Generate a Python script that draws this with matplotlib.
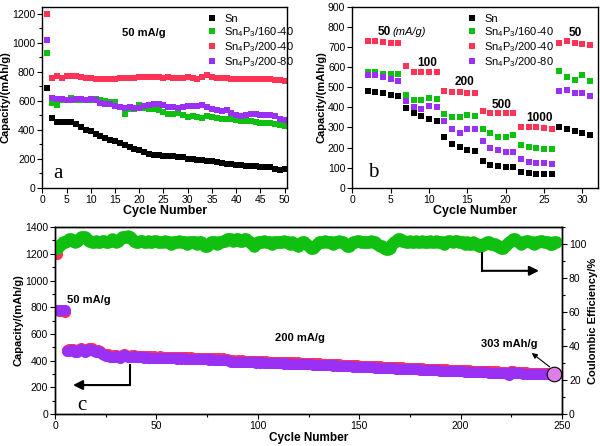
import matplotlib
matplotlib.use('Agg')
import matplotlib.pyplot as plt
from matplotlib.ticker import MultipleLocator

plt.rcParams['font.family'] = ['Liberation Sans', 'DejaVu Sans']
plt.rcParams['mathtext.default'] = 'regular'
plt.rcParams['axes.linewidth'] = 1.0

BLACK = '#000000'
GREEN = '#10c010'
RED = '#ff3355'
PURPLE = '#9b30f5'

labels = ['Sn', 'Sn$_4$P$_3$/160-40', 'Sn$_4$P$_3$/200-40', 'Sn$_4$P$_3$/200-80']

# ---- panel a : cycling at 50 mA/g
cyc_a = list(range(1, 51))
sn_a = [688, 482, 454, 454, 454, 454, 443, 420, 402, 390,
        374, 356, 344, 333, 324, 310, 298, 282, 271, 260,
        248, 236, 229, 225, 220, 218, 218, 213, 209, 202,
        197, 195, 190, 186, 186, 179, 172, 167, 163, 158,
        154, 151, 151, 149, 145, 145, 140, 128, 126, 128]
g160_a = [932, 587, 574, 604, 608, 622, 608, 608, 608, 608,
          615, 608, 599, 592, 592, 558, 512, 546, 546, 569,
          553, 546, 546, 535, 523, 512, 512, 519, 500, 489,
          493, 489, 484, 496, 489, 484, 473, 477, 477, 466,
          461, 459, 461, 454, 450, 447, 447, 438, 434, 427]
g200_40_a = [1200, 760, 769, 757, 769, 773, 773, 764, 755, 755,
             753, 748, 750, 753, 750, 755, 755, 755, 760, 764,
             766, 766, 764, 762, 760, 762, 760, 755, 760, 766,
             760, 753, 764, 778, 766, 760, 757, 755, 753, 750,
             750, 750, 750, 750, 750, 748, 748, 746, 746, 737]
g200_80_a = [1017, 622, 615, 610, 608, 608, 610, 610, 608, 610,
             604, 587, 580, 576, 564, 558, 553, 558, 553, 553,
             562, 569, 576, 576, 569, 558, 558, 553, 558, 562,
             562, 562, 569, 558, 546, 539, 528, 535, 519, 500,
             493, 500, 512, 509, 505, 500, 500, 493, 477, 466]

# ---- panel b : rate capability
cyc_b = list(range(2, 32))
sn_b = [480, 478, 473, 463, 455, 395, 370, 357, 340, 330,
        250, 220, 203, 188, 183, 133, 115, 107, 103, 103,
        78, 72, 70, 70, 70, 302, 293, 280, 272, 260]
g160_b = [575, 575, 565, 563, 565, 460, 437, 437, 448, 443,
          368, 353, 352, 360, 357, 292, 270, 250, 253, 260,
          213, 203, 200, 193, 193, 580, 553, 537, 558, 532]
g200_40_b = [727, 728, 723, 722, 720, 605, 577, 577, 575, 575,
             483, 478, 475, 472, 473, 382, 373, 372, 372, 372,
             300, 300, 300, 297, 290, 720, 728, 720, 715, 712]
g200_80_b = [560, 560, 553, 540, 533, 433, 403, 390, 405, 403,
             330, 290, 273, 293, 290, 233, 200, 188, 180, 177,
             142, 128, 125, 122, 120, 483, 487, 470, 470, 457]
rate_labels = ['100', '200', '500', '1000', '50']
rate_x = [9.8, 14.7, 19.5, 24.4, 29.1]
rate_y = [618, 527, 411, 345, 768]

# ---- panel c : long cycling at 200 mA/g
cyc_c = list(range(1, 248))
red_c = [1200, 772, 770, 770, 768, 480, 484, 490, 486, 478,
         474, 486, 494, 488, 478, 484, 496, 492, 480, 476,
         482, 472, 460, 452, 446, 448, 440, 434, 440, 444,
         436, 432, 442, 450, 444, 438, 434, 440, 444, 438,
         435, 437, 434, 432, 435, 433, 431, 430, 432, 430,
         429, 431, 429, 428, 429, 427, 429, 426, 428, 425,
         427, 425, 426, 424, 425, 423, 424, 422, 423, 421,
         422, 420, 421, 419, 420, 418, 419, 417, 418, 416,
         417, 415, 416, 414, 413, 405, 402, 403, 400, 402,
         399, 401, 398, 400, 397, 399, 396, 398, 395, 397,
         394, 396, 393, 395, 392, 393, 391, 392, 390, 391,
         389, 390, 388, 389, 387, 388, 386, 387, 385, 386,
         384, 385, 383, 384, 382, 382, 380, 381, 379, 380,
         378, 378, 376, 377, 375, 375, 373, 374, 372, 372,
         370, 371, 369, 369, 367, 367, 366, 365, 365, 363,
         363, 362, 361, 361, 360, 359, 359, 358, 357, 357,
         356, 355, 355, 354, 353, 353, 352, 351, 351, 350,
         349, 348, 348, 347, 346, 346, 345, 344, 344, 343,
         342, 341, 341, 340, 339, 339, 338, 337, 337, 336,
         335, 335, 334, 333, 333, 332, 331, 331, 330, 329,
         329, 328, 328, 327, 326, 326, 325, 325, 324, 323,
         323, 322, 322, 321, 320, 320, 319, 319, 318, 318,
         317, 316, 311, 307, 322, 326, 317, 314, 313, 313,
         312, 312, 311, 311, 310, 310, 309, 309, 308, 308,
         307, 307, 306, 306, 310, 306, 305]
purple_c = [780, 780, 778, 777, 776, 470, 474, 480, 476, 468,
            464, 476, 484, 478, 466, 474, 486, 482, 470, 466,
            472, 462, 450, 442, 436, 438, 430, 424, 430, 434,
            426, 422, 432, 440, 434, 428, 424, 430, 434, 428,
            425, 427, 424, 422, 425, 423, 421, 420, 422, 420,
            419, 421, 419, 418, 419, 417, 419, 416, 418, 415,
            417, 415, 416, 414, 415, 413, 414, 412, 413, 411,
            412, 410, 411, 409, 410, 408, 409, 407, 408, 406,
            407, 405, 406, 404, 403, 394, 391, 393, 390, 392,
            389, 391, 388, 390, 387, 389, 386, 388, 385, 387,
            384, 386, 383, 385, 382, 383, 381, 382, 380, 381,
            379, 380, 378, 379, 377, 378, 376, 377, 375, 376,
            374, 375, 373, 374, 372, 372, 370, 371, 369, 370,
            368, 368, 366, 367, 365, 365, 363, 364, 362, 362,
            360, 361, 359, 359, 357, 357, 356, 355, 355, 353,
            353, 352, 351, 351, 350, 349, 349, 348, 347, 347,
            346, 345, 345, 344, 343, 343, 342, 341, 341, 340,
            339, 338, 338, 337, 336, 336, 335, 334, 334, 333,
            332, 331, 331, 330, 329, 329, 328, 327, 327, 326,
            325, 325, 324, 323, 323, 322, 321, 321, 320, 319,
            319, 318, 318, 317, 316, 316, 315, 315, 314, 313,
            313, 312, 312, 311, 310, 310, 309, 309, 308, 308,
            307, 306, 300, 296, 314, 318, 308, 305, 304, 304,
            303, 303, 302, 302, 301, 301, 300, 300, 299, 299,
            298, 298, 297, 297, 303, 297, 296]
ce_c = [98, 99, 100, 101, 101, 102, 103, 103, 102, 101,
        102, 103, 104, 104, 104, 103, 102, 101, 101, 102,
        101, 101, 102, 102, 101, 101, 102, 103, 102, 101,
        102, 103, 104, 104, 104, 105, 104, 103, 102, 101,
        101, 102, 102, 101, 101, 102, 101, 101, 102, 102,
        101, 101, 101, 102, 101, 101, 100, 101, 101, 101,
        102, 101, 101, 101, 100, 101, 101, 101, 101, 100,
        101, 101, 100, 99, 99, 100, 101, 101, 101, 100,
        101, 101, 102, 102, 103, 103, 103, 102, 103, 103,
        102, 102, 103, 103, 102, 101, 100, 99, 100, 101,
        101, 101, 102, 101, 101, 101, 100, 101, 101, 101,
        101, 101, 102, 101, 101, 100, 101, 100, 100, 99,
        100, 101, 101, 100, 99, 98, 98, 99, 100, 101,
        101, 101, 102, 101, 101, 101, 100, 101, 101, 102,
        101, 101, 100, 99, 99, 100, 101, 101, 102, 102,
        101, 101, 101, 101, 101, 102, 101, 101, 100, 99,
        99, 98, 97, 97, 98, 100, 101, 102, 103, 103,
        102, 102, 101, 101, 102, 101, 101, 102, 101, 101,
        102, 101, 101, 101, 102, 101, 101, 102, 101, 101,
        101, 100, 101, 102, 102, 101, 102, 102, 101, 101,
        101, 100, 101, 100, 100, 101, 100, 100, 99, 99,
        100, 100, 101, 101, 100, 100, 100, 99, 99, 98,
        98, 99, 100, 101, 102, 103, 103, 102, 101, 100,
        101, 102, 102, 101, 101, 100, 101, 101, 102, 102,
        101, 101, 101, 100, 100, 101, 101]
final_cycle = 246
final_cap = 303

fig = plt.figure(figsize=(6, 4.46), dpi=100)
ax_a = fig.add_axes([0.0705, 0.579, 0.408, 0.406])
ax_b = fig.add_axes([0.587, 0.579, 0.409, 0.406])
ax_c = fig.add_axes([0.0917, 0.0717, 0.845, 0.419])


def style(ax):
    ax.tick_params(which='both', direction='out', labelsize=7.5, width=0.8, pad=1.5)
    ax.tick_params(which='major', length=3.5)
    ax.tick_params(which='minor', length=2)


leg_kw = dict(loc='upper left', frameon=False, fontsize=8, handlelength=0.8,
              handletextpad=0.7, labelspacing=0.1, borderpad=0.15, markerscale=0.85)

# panel a
for ys, c, lab in zip([sn_a, g160_a, g200_40_a, g200_80_a],
                      [BLACK, GREEN, RED, PURPLE], labels):
    ax_a.plot(cyc_a, ys, 's', color=c, ms=4.5, mew=0, label=lab)
ax_a.set_xlim(0, 50.5)
ax_a.set_ylim(0, 1250)
ax_a.xaxis.set_major_locator(MultipleLocator(5))
ax_a.yaxis.set_major_locator(MultipleLocator(200))
ax_a.yaxis.set_minor_locator(MultipleLocator(100))
style(ax_a)
ax_a.set_xlabel('Cycle Number', fontsize=9, fontweight='bold', labelpad=0)
ax_a.set_ylabel('Capacity/(mAh/g)', fontsize=8, fontweight='bold', labelpad=1)
ax_a.text(21, 1070, '50 mA/g', fontsize=8, fontweight='bold', ha='center', va='center')
ax_a.text(2.3, 100, 'a', fontsize=15, family='Liberation Serif', va='center')
ax_a.legend(bbox_to_anchor=(0.645, 1.0), **leg_kw)

# panel b
for ys, c, lab in zip([sn_b, g160_b, g200_40_b, g200_80_b],
                      [BLACK, GREEN, RED, PURPLE], labels):
    ax_b.plot(cyc_b, ys, 's', color=c, ms=4.5, mew=0, label=lab)
ax_b.set_xlim(0, 32)
ax_b.set_ylim(0, 900)
ax_b.xaxis.set_major_locator(MultipleLocator(5))
ax_b.yaxis.set_major_locator(MultipleLocator(100))
style(ax_b)
ax_b.set_xlabel('Cycle Number', fontsize=9, fontweight='bold', labelpad=0)
ax_b.set_ylabel('Capacity/(mAh/g)', fontsize=8, fontweight='bold', labelpad=1)
ax_b.text(3.3, 775, '50', fontsize=8.5, fontweight='bold', va='center')
ax_b.text(5.2, 775, '(mA/g)', fontsize=8, style='italic', va='center')
for t, x, y in zip(rate_labels, rate_x, rate_y):
    ax_b.text(x, y, t, fontsize=8.5, fontweight='bold', ha='center', va='center')
ax_b.text(2.0, 75, 'b', fontsize=15, family='Liberation Serif', va='center')
ax_b.legend(bbox_to_anchor=(0.44, 1.0), **leg_kw)

# panel c
ax_c.plot(cyc_c, red_c, 'o', color=RED, ms=8, mew=0)
ax_c.plot(cyc_c, purple_c, 'o', color=PURPLE, ms=8, mew=0)
ax_c.plot([final_cycle], [final_cap], 'o', ms=10.5, mfc='#e07ee8', mec='k', mew=0.8)
ax_c.set_xlim(0, 250)
ax_c.set_ylim(0, 1400)
ax_c.xaxis.set_major_locator(MultipleLocator(50))
ax_c.xaxis.set_minor_locator(MultipleLocator(25))
ax_c.yaxis.set_major_locator(MultipleLocator(200))
ax_c.yaxis.set_minor_locator(MultipleLocator(100))
style(ax_c)
ax_c.set_xlabel('Cycle Number', fontsize=8.5, fontweight='bold', labelpad=1)
ax_c.set_ylabel('Capacity/(mAh/g)', fontsize=8, fontweight='bold', labelpad=1)
ax_c.text(6, 855, '50 mA/g', fontsize=8, fontweight='bold', va='center')
ax_c.text(121, 570, '200 mA/g', fontsize=8, fontweight='bold', ha='center', va='center')
ax_c.text(210, 525, '303 mAh/g', fontsize=8, fontweight='bold', va='center')
ax_c.annotate('', xy=(234, 470), xytext=(245, 340),
              arrowprops=dict(arrowstyle='-|>', color='k', lw=0.8, mutation_scale=8))
ax_c.text(11, 67, 'c', fontsize=15, family='Liberation Serif', va='center')
# left pointing arrow
ax_c.plot([37, 37], [370, 217], color='k', lw=1.5)
ax_c.annotate('', xy=(7.5, 217), xytext=(37.7, 217),
              arrowprops=dict(arrowstyle='-|>', color='k', lw=1.5, mutation_scale=14))

ax2 = ax_c.twinx()
ax2.plot(cyc_c, ce_c, 'o', color=GREEN, ms=9, mew=0)
ax2.set_ylim(0, 110)
ax2.yaxis.set_major_locator(MultipleLocator(20))
ax2.yaxis.set_minor_locator(MultipleLocator(10))
style(ax2)
ax2.set_ylabel('Coulombic Efficiency/%', fontsize=8, fontweight='bold', labelpad=1)
# right pointing arrow
ax2.plot([210.4, 210.4], [95, 84.3], color='k', lw=1.5)
ax2.annotate('', xy=(240, 84.3), xytext=(209.7, 84.3),
             arrowprops=dict(arrowstyle='-|>', color='k', lw=1.5, mutation_scale=14))

fig.savefig('out.png', dpi=100)
